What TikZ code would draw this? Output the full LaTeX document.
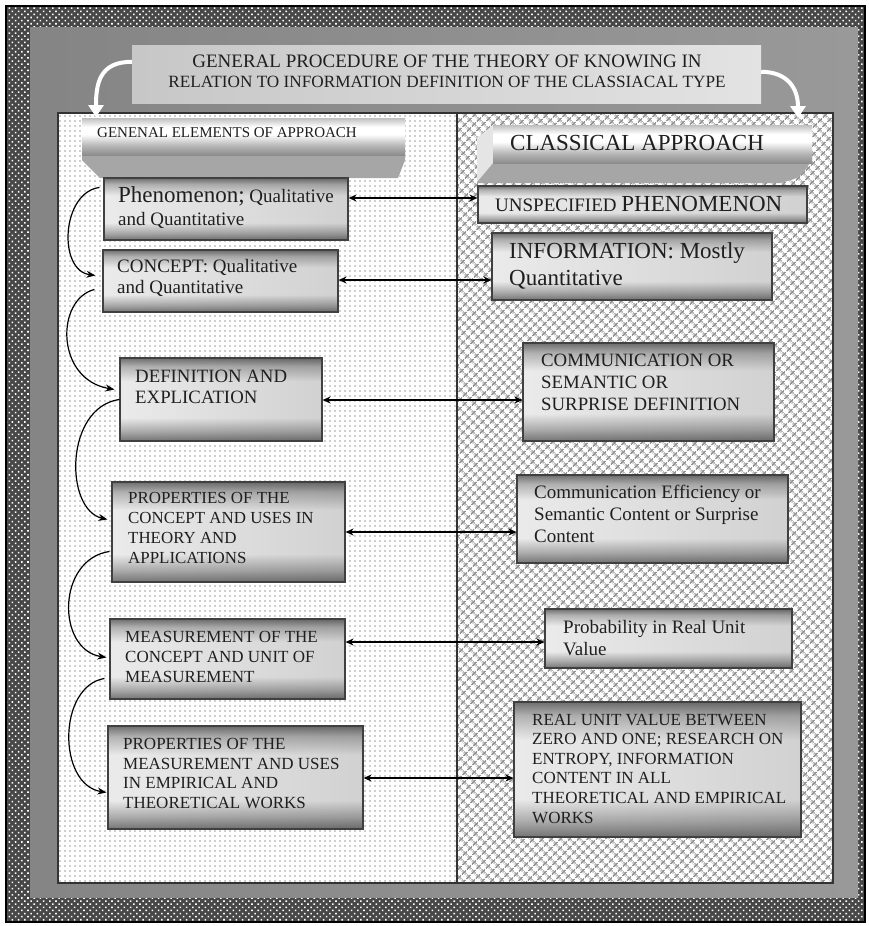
\documentclass[tikz,border=0pt]{standalone}
\usepackage{fontspec}
\setmainfont{Liberation Serif}
\usetikzlibrary{arrows.meta,patterns.meta,fit,calc,fadings}

\newcommand{\setfs}[2]{\fontsize{#1}{#2}\selectfont}

% metallic look of the step boxes; the path spans 25bp (bottom) to 75bp (top)
\pgfdeclareverticalshading{metalv}{100bp}{%
  color(0bp)=(black!50); color(25bp)=(black!50); color(31bp)=(black!26);
  color(39bp)=(white); color(61bp)=(white); color(70bp)=(black!24);
  color(75bp)=(black!52); color(100bp)=(black!52)}
% rolled banner of the two column headers
\pgfdeclareverticalshading{cylv}{100bp}{%
  color(0bp)=(black!45); color(25bp)=(black!45); color(38bp)=(black!28);
  color(53bp)=(white); color(63bp)=(white); color(75bp)=(black!25);
  color(100bp)=(black!25)}
% darker flanks of the boxes
\tikzfading[name=flanks, left color=transparent!92, middle color=transparent!100, right color=transparent!82]

\begin{document}
\begin{tikzpicture}[x=1pt,y=-1pt,
  metal/.style={shading=metalv, draw=black!75, line width=1.1pt, inner sep=0pt,
    path picture={\fill[black, path fading=flanks]
      (path picture bounding box.south west) rectangle (path picture bounding box.north east);}},
  txt/.style={inner sep=0pt, align=left, text=black!88, anchor=base west},
  link/.style={line width=1.3pt, {Stealth[length=8pt,width=7pt]}-{Stealth[length=8pt,width=7pt]}},
  flow/.style={line width=1.2pt, -{Stealth[length=9pt,width=7pt]}},
  whitearr/.style={draw=white, line width=4pt, -{Triangle[length=12pt,width=15pt]}},
  frameline/.style={draw=black!80, line width=1.2pt}]

\useasboundingbox (0,0) rectangle (868,926);
\fill[white] (0,0) rectangle (868,926);

% outer beaded border
\fill[black!72] (5,5) rectangle (866,923);
\fill[pattern={Dots[radius=1.1pt,distance=4.4pt,angle=45]}, pattern color=white] (5,5) rectangle (866,923);
\draw[black, line width=2.5pt] (6,6) rectangle (865,922);

% grey frame
\shade[left color=black!48, middle color=black!22, right color=black!40] (30,27) rectangle (858,897);

% title plate
\node[fit={(132,45) (761,103)}, inner sep=0pt, left color=black!22, right color=black!11] (titlebox) {};
\node[inner sep=0pt, anchor=base, text=black!88, font=\setfs{19}{20}] (title1) at (447,67)
  {GENERAL PROCEDURE OF THE THEORY OF KNOWING IN};
\node[inner sep=0pt, anchor=base, text=black!88, font=\setfs{17.2}{20}] (title2) at (447,87)
  {RELATION TO INFORMATION DEFINITION OF THE CLASSIACAL TYPE};

% the two columns
\fill[white] (58,113) rectangle (457,883);
\fill[pattern={Dots[radius=0.8pt,distance=5pt]}, pattern color=black!38] (58,113) rectangle (457,883);
\fill[white] (457,113) rectangle (833,883);
\fill[pattern={Hatch[distance=6.4pt,angle=45,line width=1.7pt]}, pattern color=black!42] (457,113) rectangle (833,883);
\draw[frameline] (58,113) rectangle (833,883);
\draw[frameline] (457,113) -- (457,883);

% white arrows from the title into both columns
\coordinate (lefttip) at (96,117);
\coordinate (righttip) at (798,118);
\draw[whitearr] ($(titlebox.north west)+(0,17)$) .. controls +(-32,0) and +(0,-34) .. (lefttip);
\draw[whitearr] ($(titlebox.north east)+(0,27)$) .. controls +(26,0) and +(0,-30) .. (righttip);

% column headers
\fill[black!35] (82,150) -- (405,150) -- (405,160) -- (398,178) -- (100,178) -- (82,160) -- cycle;
\node[fit={(82,118) (405,155)}, inner sep=0pt, shading=cylv] (lefthead) {};
\node[txt, font=\setfs{15}{16}] (leftheadtext) at (97,137) {GENENAL ELEMENTS OF APPROACH};

\fill[black!35] (477,150) -- (812,150) -- (812,160) .. controls (800,178) .. (780,183) -- (477,183) -- cycle;
\fill[black!10] (477,138) -- (493,125) -- (493,163) -- (477,182) -- cycle;
\node[fit={(493,125) (812,163)}, inner sep=0pt, shading=cylv] (righthead) {};
\node[txt, font=\setfs{23}{24}] (rightheadtext) at (510,150) {CLASSICAL APPROACH};

% left column: steps of the general approach (text anchored at its last baseline)
\node[metal, fit={(104,178) (348,240)}] (phen) {};
\node[txt, font=\setfs{19}{23}] at (118,225) {{\setfs{23}{23}Phenomenon;} Qualitative\\and Quantitative};

\node[metal, fit={(103,250) (338,312)}] (conc) {};
\node[txt, font=\setfs{19}{21}] at (117,293) {CONCEPT: Qualitative\\and Quantitative};

\node[metal, fit={(120,358) (322,441)}] (defn) {};
\node[txt, font=\setfs{18.8}{21}] at (135,403) {DEFINITION AND\\EXPLICATION};

\node[metal, fit={(112,482) (345,582)}] (propc) {};
\node[txt, font=\setfs{16.9}{19.7}] at (128,563) {PROPERTIES OF THE\\CONCEPT AND USES IN\\THEORY AND\\APPLICATIONS};

\node[metal, fit={(110,619) (345,699)}] (meas) {};
\node[txt, font=\setfs{17}{20}] at (125,682) {MEASUREMENT OF THE\\CONCEPT AND UNIT OF\\MEASUREMENT};

\node[metal, fit={(108,726) (363,829)}] (propm) {};
\node[txt, font=\setfs{17}{19.5}] at (123,808) {PROPERTIES OF THE\\MEASUREMENT AND USES\\IN EMPIRICAL AND\\THEORETICAL WORKS};

% right column: the classical approach
\node[metal, fit={(478,186) (807,223)}] (unsp) {};
\node[txt, font=\setfs{19}{23}] at (495,211) {UNSPECIFIED {\setfs{23}{23}PHENOMENON}};

\node[metal, fit={(492,233) (772,300)}] (info) {};
\node[txt, font=\setfs{23}{27}] at (509,285) {INFORMATION: Mostly\\Quantitative};

\node[metal, fit={(523,343) (774,441)}] (comm) {};
\node[txt, font=\setfs{18.8}{22}] at (541,410) {COMMUNICATION OR\\SEMANTIC OR\\SURPRISE DEFINITION};

\node[metal, fit={(517,475) (788,563)}] (eff) {};
\node[txt, font=\setfs{19}{22}] at (534,542) {Communication Efficiency or\\Semantic Content or Surprise\\Content};

\node[metal, fit={(545,609) (792,668)}] (prob) {};
\node[txt, font=\setfs{19}{22}] at (563,655) {Probability in Real Unit\\Value};

\node[metal, fit={(514,702) (801,837)}] (real) {};
\node[txt, font=\setfs{17}{19.6}] at (532,823) {REAL UNIT VALUE BETWEEN\\ZERO AND ONE; RESEARCH ON\\ENTROPY, INFORMATION\\CONTENT IN ALL\\THEORETICAL AND EMPIRICAL\\WORKS};

% correspondences between the columns
\draw[link] (phen.east |- 0,198) -- (unsp.west |- 0,198);
\draw[link] (conc.east |- 0,280) -- (info.west |- 0,280);
\draw[link] (defn.east |- 0,400) -- (comm.west |- 0,400);
\draw[link] (propc.east |- 0,532) -- (eff.west |- 0,532);
\draw[link] (meas.east |- 0,642) -- (prob.west |- 0,642);
\draw[link] (propm.east |- 0,778) -- (real.west |- 0,778);

% succession of the steps
\draw[flow] ($(phen.north west)+(-4,10)$) .. controls +(-38,5) and +(-38,-5) .. ($(conc.north west)+(-7,26)$);
\draw[flow] ($(conc.north west)+(-8,40)$) .. controls +(-39,10) and +(-59,-10) .. ($(defn.north west)+(-5,32)$);
\draw[flow] ($(defn.north west)+(0,42)$) .. controls +(-55,8) and +(-43,-10) .. ($(propc.north west)+(-4,38)$);
\draw[flow] ($(propc.north west)+(-2,70)$) .. controls +(-53,8) and +(-50,-8) .. ($(meas.north west)+(-3,39)$);
\draw[flow] ($(meas.north west)+(-5,60)$) .. controls +(-47,8) and +(-49,-8) .. ($(propm.north west)+(-1,67)$);

\end{tikzpicture}
\end{document}
